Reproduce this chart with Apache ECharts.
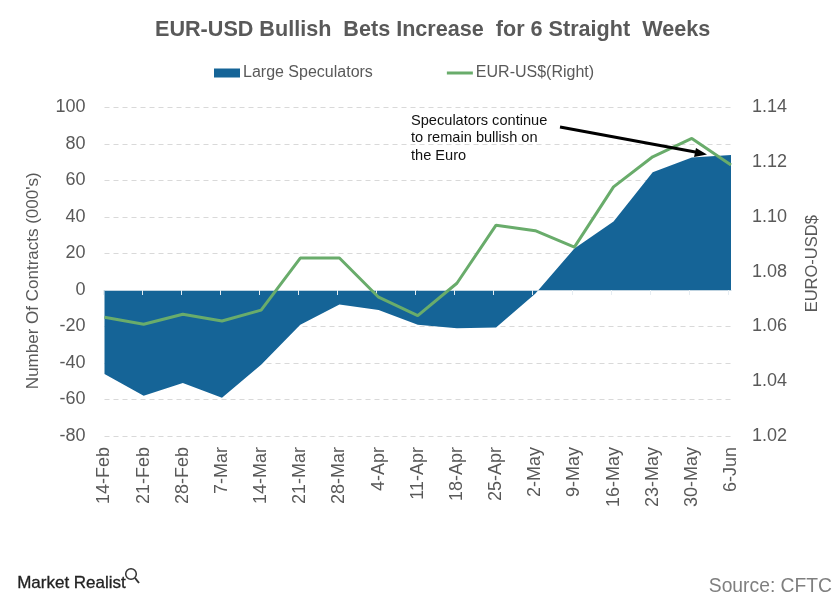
<!DOCTYPE html>
<html><head><meta charset="utf-8">
<style>html,body{margin:0;padding:0;background:#fff}#c{width:840px;height:601px}</style>
<script src="https://cdn.jsdelivr.net/npm/echarts@6/dist/echarts.min.js"></script>
</head><body><div id="c"></div>
<script>
const categories = ['14-Feb','21-Feb','28-Feb','7-Mar','14-Mar','21-Mar','28-Mar','4-Apr','11-Apr','18-Apr','25-Apr','2-May','9-May','16-May','23-May','30-May','6-Jun'];
const speculators = [-46,-58,-51,-59,-41,-19,-8,-11,-19,-21,-20.5,-2,22.7,37.5,64.5,72.6,74];
const eurUsd = [1.0634,1.0608,1.0645,1.062,1.066,1.085,1.085,1.0707,1.064,1.0758,1.097,1.095,1.089,1.111,1.122,1.1287,1.119];
const leftTicks = {min:-80,max:100,interval:20};
const rightTicks = {min:1.02,max:1.14,interval:0.02};
const FONT = '"Liberation Sans", Arial, sans-serif';
const GREY = '#595959';
const BLUE = '#156497';
const GREEN = '#69AC6B';
const chart = echarts.init(document.getElementById('c'), null, {renderer:'canvas'});
chart.setOption({
  animation:false,
  backgroundColor:'#fff',
  textStyle:{fontFamily:FONT},
  legend:{
    left:214, top:65, padding:0, itemWidth:26, itemHeight:9, itemGap:74,
    textStyle:{fontFamily:FONT,fontSize:16,color:GREY,padding:[0,0,0,-2]},
    data:[{name:'Large Speculators',icon:'rect'},{name:'EUR-US$(Right)',icon:'path://M0 0H26V3H0Z'}]
  },
  grid:[
    {left:104.5,right:109,top:107.5,bottom:165},
    {left:103,right:112,top:107.5,bottom:165}
  ],
  xAxis:[
    {type:'category',gridIndex:0,boundaryGap:false,data:categories,position:'bottom',
     axisLine:{onZero:false,show:false},axisTick:{show:false},splitLine:{show:false},
     axisLabel:{rotate:90,interval:0,fontFamily:FONT,fontSize:18,color:GREY,margin:11}},
    {type:'category',gridIndex:0,boundaryGap:false,data:categories,position:'bottom',z:5,
     axisLine:{onZero:true,lineStyle:{color:'#BFD3E0',width:1}},
     axisTick:{show:false},axisLabel:{show:false},splitLine:{show:false}},
    {type:'category',gridIndex:1,boundaryGap:false,data:categories,position:'bottom',z:5,
     axisLine:{onZero:true,show:false},
     axisTick:{show:true,interval:0,inside:false,length:5,alignWithLabel:true,lineStyle:{color:'#E6EDF2'}},
     axisLabel:{show:false},splitLine:{show:false}}
  ],
  yAxis:[
    {type:'value',gridIndex:0,min:leftTicks.min,max:leftTicks.max,interval:leftTicks.interval,
     name:"Number Of Contracts (000's)",nameLocation:'middle',nameGap:63,nameRotate:90,
     nameTextStyle:{fontFamily:FONT,fontSize:17,color:GREY,padding:[0,18,0,0]},
     axisLine:{show:false},axisTick:{show:false},
     axisLabel:{fontFamily:FONT,fontSize:18,color:GREY,margin:19},
     splitLine:{show:true,lineStyle:{color:'#D9D9D9',type:[5,4],width:1}}},
    {type:'value',gridIndex:0,min:rightTicks.min,max:rightTicks.max,interval:rightTicks.interval,position:'right',
     name:'EURO-USD$',nameLocation:'middle',nameGap:73,nameRotate:90,
     nameTextStyle:{fontFamily:FONT,fontSize:16.5,color:GREY,padding:[0,0,0,16]},
     axisLine:{show:false},axisTick:{show:false},splitLine:{show:false},
     axisLabel:{fontFamily:FONT,fontSize:18,color:GREY,margin:21,formatter:v=>v.toFixed(2)}},
    {type:'value',gridIndex:1,min:leftTicks.min,max:leftTicks.max,interval:leftTicks.interval,show:false}
  ],
  series:[
    {name:'Large Speculators',type:'line',xAxisIndex:0,yAxisIndex:0,data:speculators,symbol:'none',
     lineStyle:{width:0,color:BLUE},itemStyle:{color:BLUE},areaStyle:{color:BLUE,opacity:1},z:2},
    {name:'EUR-US$(Right)',type:'line',xAxisIndex:0,yAxisIndex:1,data:eurUsd,symbol:'none',
     lineStyle:{width:3,color:GREEN},itemStyle:{color:GREEN},z:6}
  ],
  graphic:[
    {type:'text',left:155,top:19,style:{text:'EUR-USD Bullish  Bets Increase  for 6 Straight  Weeks',fontFamily:FONT,fontSize:21.6,fontWeight:'bold',fill:GREY},z:10},
    {type:'text',left:411,top:112,style:{text:'Speculators continue\nto remain bullish on\nthe Euro',fontFamily:FONT,fontSize:14.6,lineHeight:17.5,fill:'#111'},z:10},
    {type:'line',shape:{x1:560,y1:127,x2:698,y2:152.5},style:{stroke:'#000',lineWidth:3},z:10},
    {type:'polygon',shape:{points:[[707,154.5],[696,148],[694,157]]},style:{fill:'#000'},z:10},
    {type:'text',left:17,top:575,style:{text:'Market Realist',fontFamily:FONT,fontSize:17,fill:'#222',stroke:'#222',lineWidth:0.3},z:10},
    {type:'circle',shape:{cx:131,cy:574,r:5.3},style:{fill:'none',stroke:'#333',lineWidth:1.5},z:10},
    {type:'line',shape:{x1:135,y1:578,x2:139,y2:583},style:{stroke:'#333',lineWidth:2},z:10},
    {type:'text',right:8,top:577,style:{text:'Source: CFTC',fontFamily:FONT,fontSize:19.3,fill:'#7f7f7f'},z:10}
  ]
});
</script></body></html>
